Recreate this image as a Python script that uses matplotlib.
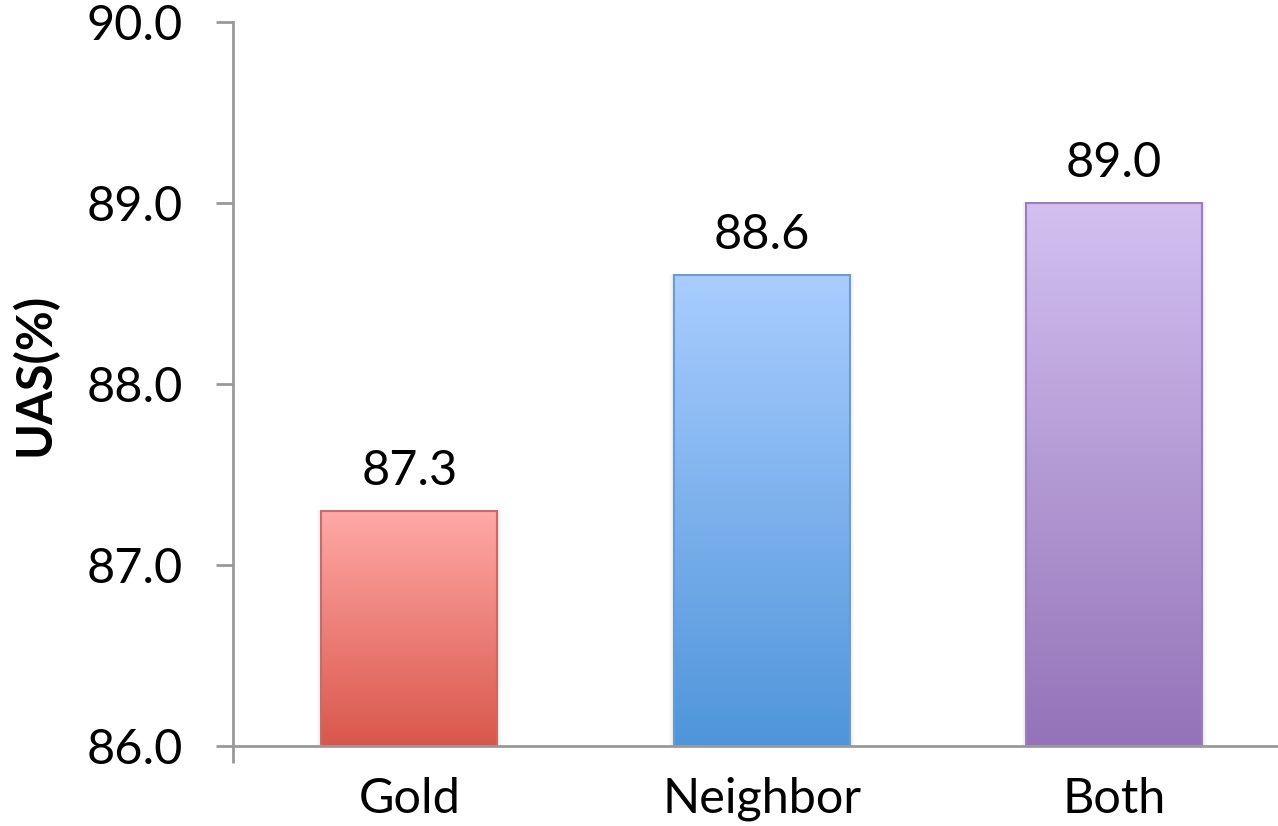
import numpy as np
import matplotlib
matplotlib.use("Agg")
import matplotlib.pyplot as plt
from matplotlib.colors import LinearSegmentedColormap

categories = ["Gold", "Neighbor", "Both"]
uas = [87.3, 88.6, 89.0]
y_ticks = [86.0, 87.0, 88.0, 89.0, 90.0]

# gradient colours (top, bottom) and outline per bar
grad_top = ["#FFA9A7", "#A9CDFF", "#D3C0F0"]
grad_bottom = ["#D9574B", "#4F95DA", "#9473B8"]
edge_colors = ["#C96A66", "#6A9BD3", "#9A7EC0"]

plt.rcParams["font.family"] = ["Lato", "DejaVu Sans"]
FS = 35

fig = plt.figure(figsize=(12.78, 8.26), dpi=100)
ax = fig.add_axes([233 / 1278, 1 - 746 / 826, 1057.5 / 1278, (746 - 22) / 826])

x = np.arange(len(categories))
bars = ax.bar(x, uas, width=0.5, bottom=0, color="none", zorder=3)
ax.set_ylim(86.0, 90.0)
ax.set_xlim(-0.5, 2.5)

for i, b in enumerate(bars):
    x0, w, h = b.get_x(), b.get_width(), b.get_height()
    cmap = LinearSegmentedColormap.from_list(f"g{i}", [grad_bottom[i], grad_top[i]])
    grad = np.linspace(0, 1, 256).reshape(-1, 1)
    # faint soft shadow around the bar
    for k in [0.012, 0.008, 0.004]:
        ax.add_patch(plt.Rectangle((x0 - k, 86.0), w + 2 * k, h - 86.0 + k * 0.5,
                                   facecolor="black", alpha=0.025, edgecolor="none", zorder=2))
    im = ax.imshow(grad, extent=[x0, x0 + w, 86.0, h], origin="lower",
                   cmap=cmap, aspect="auto", zorder=3)
    rect = plt.Rectangle((x0, 86.0), w, h - 86.0, facecolor="none",
                         edgecolor=edge_colors[i], linewidth=1.5, zorder=4)
    ax.add_patch(rect)
    im.set_clip_path(rect)
    ax.text(x[i], h + 0.1, f"{h:.1f}", ha="center", va="bottom", fontsize=FS, color="black")

ax.set_xlim(-0.5, 2.5)
ax.set_ylim(86.0, 90.0)

ax.set_yticks(y_ticks)
ax.set_yticklabels([f"{v:.1f}" for v in y_ticks], fontsize=FS)
ax.set_xticks([-0.5], minor=True)
ax.set_xticks(x)
ax.set_xticklabels(categories, fontsize=FS)
ax.tick_params(axis="x", which="major", length=0, pad=22)
ax.tick_params(axis="x", which="minor", length=12, width=2, color="#999999")
ax.tick_params(axis="y", length=12, width=2, color="#999999", pad=24)

fig.text(34 / 1278, 1 - 374 / 826, "UAS(%)", rotation=90, ha="center", va="center",
         fontsize=FS, fontweight="bold")

for s in ["top", "right"]:
    ax.spines[s].set_visible(False)
for s in ["left", "bottom"]:
    ax.spines[s].set_color("#999999")
    ax.spines[s].set_linewidth(2)
    ax.spines[s].set_zorder(5)

fig.savefig("out.png", dpi=100)
